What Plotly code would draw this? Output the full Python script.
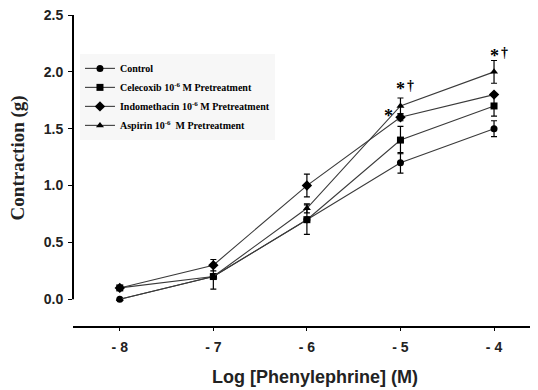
import plotly.graph_objects as go

x_vals = [-8, -7, -6, -5, -4]
x_ticklabels = ["- 8", "- 7", "- 6", "- 5", "- 4"]
y_vals = [0, 0.5, 1.0, 1.5, 2.0, 2.5]
y_ticklabels = ["0.0", "0.5", "1.0", "1.5", "2.0", "2.5"]

control = [0.0, 0.2, 0.7, 1.2, 1.5]
control_err = [0.0, 0.0, 0.0, 0.09, 0.07]
celecoxib = [0.1, 0.2, 0.7, 1.4, 1.7]
celecoxib_err = [0.0, 0.11, 0.13, 0.12, 0.09]
indomethacin = [0.1, 0.3, 1.0, 1.6, 1.8]
indomethacin_err = [0.0, 0.05, 0.1, 0.03, 0.0]
aspirin = [0.0, 0.2, 0.8, 1.7, 2.0]
aspirin_err = [0.0, 0.0, 0.04, 0.07, 0.1]

names = [
    "Control",
    "Celecoxib 10<sup>-6</sup> M Pretreatment",
    "Indomethacin 10<sup>-6</sup> M Pretreatment",
    "Aspirin 10<sup>-6</sup>  M Pretreatment",
]
series = [control, celecoxib, indomethacin, aspirin]
errors = [control_err, celecoxib_err, indomethacin_err, aspirin_err]
symbols = ["circle", "square", "diamond", "triangle-up"]
sizes = [7, 7, 8, 7]

fig = go.Figure()
for n, ys, es, sym, sz in zip(names, series, errors, symbols, sizes):
    fig.add_trace(go.Scatter(
        x=x_vals, y=ys, name=n, mode="lines+markers",
        line=dict(color="#3a3a3a", width=1.1),
        marker=dict(symbol=sym, size=sz, color="black"),
        error_y=dict(type="data", array=es, visible=True, color="black", thickness=1.2, width=3),
    ))

# significance marks
marks = [(-5, 1.85, "*", 0.0), (-5, 1.88, "†", 0.11), (-5.13, 1.61, "*", 0.0),
         (-4, 2.14, "*", 0.0), (-4, 2.17, "†", 0.11)]
for xx, yy, t, dx in marks:
    fig.add_annotation(x=xx + dx, y=yy, text=t, showarrow=False,
                       font=dict(family="Liberation Serif", size=18 if t == "*" else 14,
                                 color="#000000", weight="bold"))

# y axis line from 0 to 2.5
fig.add_shape(type="line", xref="paper", yref="y", x0=0, x1=0, y0=0, y1=2.5,
              line=dict(color="black", width=2))

# axis titles
fig.add_annotation(xref="paper", yref="y", x=-0.118, y=1.24, text="Contraction (g)",
                   textangle=-90, showarrow=False, xanchor="center", yanchor="middle",
                   font=dict(family="Liberation Serif", size=19, color="#222", weight="bold"))
fig.add_annotation(xref="x", yref="paper", x=-5.91, y=-0.165, text="Log [Phenylephrine] (M)",
                   showarrow=False, xanchor="center", yanchor="middle",
                   font=dict(family="Liberation Sans", size=18, color="#222", weight="bold"))

fig.update_layout(
    width=530, height=382,
    margin=dict(l=65, r=0, t=7, b=64, autoexpand=False),
    plot_bgcolor="white", paper_bgcolor="white",
    showlegend=True,
    legend=dict(x=0.015, y=0.875, xanchor="left", yanchor="top",
                bgcolor="rgba(245,245,245,0.8)",
                font=dict(family="Liberation Serif", size=10, color="black", weight="bold"),
                itemwidth=30, tracegroupgap=0),
    xaxis=dict(range=[-8.5, -3.53], tickvals=x_vals, ticktext=x_ticklabels, automargin=False,
               showline=True, linecolor="black", linewidth=2, ticks="outside", ticklen=3,
               tickcolor="black", showgrid=False, zeroline=False, ticklabelstandoff=4,
               ticklabeloverflow="allow",
               tickfont=dict(family="Liberation Sans", size=14, color="#222", weight="bold")),
    yaxis=dict(range=[-0.235, 2.5], tickvals=y_vals, automargin=False,
               ticktext=y_ticklabels, ticklabeloverflow="allow",
               showline=False, ticks="outside", ticklen=4, tickcolor="black",
               showgrid=False, zeroline=False, ticklabelstandoff=2,
               tickfont=dict(family="Liberation Sans", size=14, color="#222", weight="bold")),
)

fig.write_html("out.html")
